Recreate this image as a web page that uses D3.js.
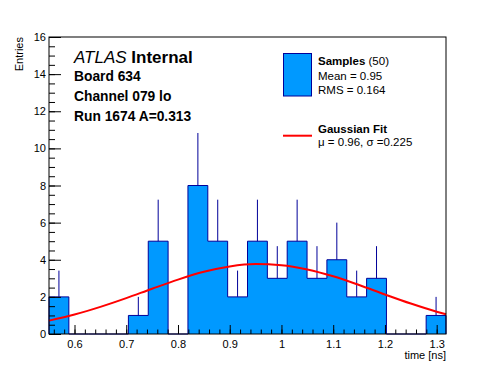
<!doctype html>
<html lang="en">
    <head>
        <meta charset="utf-8">
        <title>Board 634 timing</title>
        <script type="text/javascript" src="https://cdn.jsdelivr.net/npm/d3@7"></script>
        <style>
            body { margin: 0; background: white; }
            text { font-family: "Liberation Sans", Arial, Helvetica, sans-serif; }
        </style>
    </head>
    <body>
        <script type="text/javascript">

            // histogram: 20 bins between the sample min and max
            var binLow = 0.5507;
            var binHigh = 1.318;
            var binCounts = [2, 0, 0, 0, 1, 5, 0, 8, 5, 2, 5, 3, 5, 3, 4, 2, 3, 0, 0, 1];

            // gaussian fit curve
            var fitX = [0.5507, 0.60, 0.65, 0.70, 0.75, 0.80, 0.85, 0.90, 0.95, 1.00, 1.05, 1.10, 1.15, 1.20, 1.25, 1.30, 1.318];
            var fitY = [0.72, 1.05, 1.46, 1.93, 2.44, 2.93, 3.35, 3.64, 3.77, 3.71, 3.48, 3.11, 2.64, 2.13, 1.64, 1.20, 1.06];

            var xTicks = [0.6, 0.7, 0.8, 0.9, 1.0, 1.1, 1.2, 1.3];
            var yTicks = [0, 2, 4, 6, 8, 10, 12, 14, 16];

            var svgW = 496;
            var svgH = 372;
            var frame = {left: 49, right: 446, top: 37, bottom: 334};

            var fillBlue = "#0099ff";
            var lineBlue = "#000099";

            var svg = d3.select("body")
                        .append("svg")
                        .attr("width", svgW)
                        .attr("height", svgH);

            var xScale = d3.scaleLinear()
                           .domain([binLow, binHigh])
                           .range([frame.left, frame.right]);

            var yScale = d3.scaleLinear()
                           .domain([0, 16])
                           .range([frame.bottom, frame.top]);

            var binW = (binHigh - binLow) / binCounts.length;
            var bins = binCounts.map((c, i) => ({lo: binLow + i * binW, hi: binLow + (i + 1) * binW, n: c}));

            // filled step outline
            var pts = [{x: binLow, y: 0}];
            bins.forEach(b => pts.push({x: b.lo, y: b.n}));
            pts.push({x: binHigh, y: binCounts[binCounts.length - 1]});
            pts.push({x: binHigh, y: 0});

            var step = d3.line()
                         .x(d => xScale(d.x))
                         .y(d => yScale(d.y))
                         .curve(d3.curveStepAfter);

            svg.append("path")
               .datum(pts)
               .attr("d", step)
               .attr("fill", fillBlue)
               .attr("stroke", lineBlue)
               .attr("stroke-width", 1);

            // poisson error bars (upper half, lower part sits inside the fill)
            svg.selectAll("line.err")
               .data(bins.filter(b => b.n > 0))
               .enter()
               .append("line")
               .attr("class", "err")
               .attr("x1", d => xScale((d.lo + d.hi) / 2))
               .attr("x2", d => xScale((d.lo + d.hi) / 2))
               .attr("y1", d => yScale(d.n))
               .attr("y2", d => yScale(d.n + Math.sqrt(d.n)))
               .attr("stroke", lineBlue)
               .attr("stroke-width", 1);

            // axes, ticks pointing into the frame
            var xMinor = d3.range(0.56, 1.3101, 0.02);
            var yMinor = d3.range(0, 16.01, 0.5);

            svg.append("g")
               .attr("transform", "translate(0," + frame.bottom + ")")
               .call(d3.axisBottom(xScale).tickValues(xMinor).tickSize(-4.5).tickFormat(""))
               .call(g => g.select(".domain").remove());

            svg.append("g")
               .attr("transform", "translate(0," + frame.bottom + ")")
               .call(d3.axisBottom(xScale).tickValues(xTicks).tickSize(-9).tickPadding(6)
                       .tickFormat(d => d3.format("")(+d.toFixed(1))))
               .call(g => g.select(".domain").remove())
               .call(g => g.selectAll("text").attr("font-size", "11px").attr("fill", "black")
                           .attr("font-family", "Liberation Sans, Arial, sans-serif"));

            svg.append("g")
               .attr("transform", "translate(" + frame.left + ",0)")
               .call(d3.axisLeft(yScale).tickValues(yMinor).tickSize(-6).tickFormat(""))
               .call(g => g.select(".domain").remove());

            svg.append("g")
               .attr("transform", "translate(" + frame.left + ",0)")
               .call(d3.axisLeft(yScale).tickValues(yTicks).tickSize(-12).tickPadding(3))
               .call(g => g.select(".domain").remove())
               .call(g => g.selectAll("text").attr("font-size", "11px").attr("fill", "black")
                           .attr("font-family", "Liberation Sans, Arial, sans-serif"));

            svg.selectAll(".tick line").attr("stroke", "black");

            // fit curve
            var fitLine = d3.line()
                            .x((d, i) => xScale(fitX[i]))
                            .y(d => yScale(d))
                            .curve(d3.curveMonotoneX);

            svg.append("path")
               .datum(fitY)
               .attr("d", fitLine)
               .attr("fill", "none")
               .attr("stroke", "#ff0000")
               .attr("stroke-width", 2);

            svg.append("rect")
               .attr("x", frame.left)
               .attr("y", frame.top)
               .attr("width", frame.right - frame.left)
               .attr("height", frame.bottom - frame.top)
               .attr("fill", "none")
               .attr("stroke", "black")
               .attr("stroke-width", 1);

            // axis titles
            svg.append("text")
               .attr("x", frame.right)
               .attr("y", 359)
               .attr("text-anchor", "end")
               .attr("font-size", "11px")
               .text("time [ns]");

            svg.append("text")
               .attr("transform", "translate(23," + frame.top + ") rotate(-90)")
               .attr("text-anchor", "end")
               .attr("font-size", "11px")
               .text("Entries");

            // ATLAS label block
            var atlas = svg.append("text")
                           .attr("x", 74)
                           .attr("y", 63)
                           .attr("font-size", "17px");
            atlas.append("tspan").attr("font-style", "italic").text("ATLAS");
            atlas.append("tspan").attr("font-weight", "bold").text(" Internal");

            var infoLines = ["Board 634", "Channel 079 lo", "Run 1674 A=0.313"];
            svg.selectAll("text.info")
               .data(infoLines)
               .enter()
               .append("text")
               .attr("class", "info")
               .attr("x", 74)
               .attr("y", (_, i) => 81 + i * 20)
               .attr("font-size", "13.8px")
               .attr("font-weight", "bold")
               .text(d => d);

            // legend
            svg.append("rect")
               .attr("x", 283.5)
               .attr("y", 53.5)
               .attr("width", 28)
               .attr("height", 42.5)
               .attr("fill", fillBlue)
               .attr("stroke", lineBlue)
               .attr("stroke-width", 1);

            var samp = svg.append("text").attr("x", 318).attr("y", 65).attr("font-size", "11.5px");
            samp.append("tspan").attr("font-weight", "bold").text("Samples");
            samp.append("tspan").text(" (50)");

            svg.append("text").attr("x", 318).attr("y", 79.5).attr("font-size", "11.5px").text("Mean = 0.95");
            svg.append("text").attr("x", 318).attr("y", 93.5).attr("font-size", "11.5px").text("RMS = 0.164");

            svg.append("line")
               .attr("x1", 283)
               .attr("x2", 312)
               .attr("y1", 135.7)
               .attr("y2", 135.7)
               .attr("stroke", "#ff0000")
               .attr("stroke-width", 2);

            svg.append("text").attr("x", 318).attr("y", 132.5).attr("font-size", "11.5px")
               .attr("font-weight", "bold").text("Gaussian Fit");
            svg.append("text").attr("x", 318).attr("y", 146).attr("font-size", "11.5px")
               .text("\u03bc = 0.96, \u03c3 =0.225");

        </script>
    </body>
</html>
